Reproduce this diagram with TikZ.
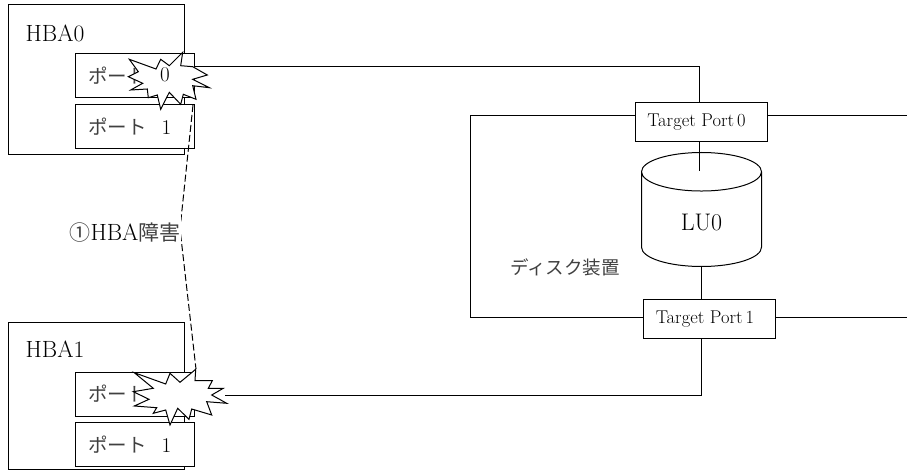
\documentclass[tikz,border=0pt]{standalone}
\usepackage{fontspec}
\newfontfamily\jpfont{Noto Sans CJK JP}
\usetikzlibrary{shapes.geometric}
\tikzset{
  box/.style={draw,line width=1pt,inner sep=0pt},
  portbox/.style={box,fill=white,minimum width=119,minimum height=44,text width=93,align=left,font=\fontsize{21}{24}\selectfont},
  targetbox/.style={box,fill=white,minimum width=132,minimum height=39,font=\fontsize{18.5}{20}\selectfont},
  burst/.style={draw,line width=1pt,fill=white,line join=miter},
  wire/.style={line width=1pt},
  hostname/.style={font=\fontsize{23.5}{26}\selectfont},
}
\newcommand{\kana}[1]{{\jpfont\fontsize{19.5}{24}\selectfont\color{black!75}#1}\hspace{15pt}}
\newcommand{\tlabel}[1]{\raisebox{4.5pt}{\hspace*{-9pt}#1}}
\begin{document}
\begin{tikzpicture}[x=1pt,y=-1pt]
\useasboundingbox (0,0) rectangle (907,470);
% hosts
\node[box,minimum width=176,minimum height=150] (hba0) at (96,80) {};
\node[hostname] (hba0name) at (55,33) {HBA0};
\node[portbox] (port00) at (134.5,76) {\kana{ポート}};
\node[portbox] (port01) at (134.5,126.5) {\kana{ポート}1};
\node[box,minimum width=176,minimum height=147] (hba1) at (96,395.5) {};
\node[hostname] (hba1name) at (55,349) {HBA1};
\node[portbox] (port10) at (134.5,394) {\kana{ポート}0};
\node[portbox] (port11) at (134.5,444.5) {\kana{ポート}1};
% disk
\node[targetbox] (target0) at (701,122.5) {\tlabel{Target Port\,0}};
\node[targetbox] (target1) at (709.5,319) {\tlabel{Target Port\,1}};
\node[draw,line width=1pt,cylinder,shape border rotate=90,aspect=0.8,minimum width=120,minimum height=114,anchor=south,font=\fontsize{24}{26}\selectfont] (lu0) at (701.5,267) {LU0};
\node[font=\fontsize{18.5}{22}\selectfont\jpfont,text=black!75] (disk) at (565,267) {ディスク装置};
\coordinate (a0) at (194,66.7);
\coordinate (a1) at (225,395);
\coordinate (a2) at (699.5,171);
\coordinate (c0) at (193,105);
\coordinate (c1) at (180,229);
\coordinate (c2) at (196,369);
\coordinate (r0) at (907,115.7);
\coordinate (r1) at (907,317.7);
\coordinate (l0) at (470,115.7);
\draw[wire] (a0) -| (target0.north -| a2);
\draw[wire] (a1) -| (target1.south -| lu0.south);
\draw[wire] (target0.south -| a2) -- (a2);
\draw[wire] (lu0.south) -- (target1.north -| lu0.south);
\draw[wire] (target0.west |- l0) -- (l0) |- (target1.west |- r1);
\draw[wire] (target0.east |- r0) -- (r0);
\draw[wire] (target1.east |- r1) -- (r1);
\draw[wire,dash pattern=on 7pt off 3pt] (c0) -- (c1) -- (c2);
\node[fill=white,inner sep=1pt,minimum height=36,font=\fontsize{23.5}{26}\selectfont] (fault) at (125,233) {{\jpfont\fontsize{21}{24}\selectfont\color{black!75}①}HBA{\jpfont\fontsize{21}{24}\selectfont\color{black!75}障害}};
% failures
\draw[burst] (182.7,52.3)--(180.7,65.7)--(192.7,66.7)--(207.3,75)--(192.7,79.3)--(209.3,87.7)--(192.7,85.7)--(196,99.3)--(183.3,94.3)--(180.7,104.3)--(169.3,92.3)--(160.7,109.3)--(157.3,95)--(148.3,97.7)--(147.3,89)--(130.7,90)--(142.7,83.3)--(128.3,76.7)--(138.3,71.7)--(129.3,59.3)--(156,69)--(160.7,59.3)--(169.3,65.7)--cycle;
\node[font=\fontsize{21}{24}\selectfont] (port00num) at (165,75) {0};
\draw[burst] (134.3,372.7)--(153.3,388.3)--(133.3,391.7)--(149,399.3)--(134.3,406)--(156.7,407.7)--(153.3,413.3)--(165.7,410)--(170,425)--(177.7,408.3)--(189,419.3)--(191.7,409)--(211.7,415)--(206.7,401.7)--(226.7,403.3)--(211.7,395)--(223.3,388.3)--(208.3,388.3)--(212.3,380.7)--(195,380.7)--(195.7,369.3)--(180,382.3)--(170,373.3)--(165.7,384)--cycle;
\end{tikzpicture}
\end{document}
